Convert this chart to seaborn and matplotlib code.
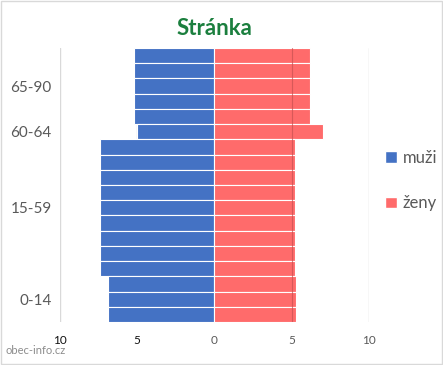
import pandas as pd
import matplotlib.pyplot as plt
import seaborn as sns
from matplotlib.patches import Patch, Rectangle

# Age groups from oldest (top) to youngest (bottom)
ages = ['85-90', '80-84', '75-79', '70-74', '65-69', '60-64',
        '55-59', '50-54', '45-49', '40-44', '35-39', '30-34', '25-29', '20-24', '15-19',
        '10-14', '5-9', '0-4']
muzi = [5.2, 5.2, 5.2, 5.2, 5.2, 5.0,
        7.4, 7.4, 7.4, 7.4, 7.4, 7.4, 7.4, 7.4, 7.4,
        6.9, 6.9, 6.9]
zeny = [6.2, 6.2, 6.2, 6.2, 6.2, 7.0,
        5.2, 5.2, 5.2, 5.2, 5.2, 5.2, 5.2, 5.2, 5.2,
        5.3, 5.3, 5.3]
groups = ['65-90', '60-64', '15-59', '0-14']
group_members = [ages[0:5], ages[5:6], ages[6:15], ages[15:18]]
x_ticks = [-10, -5, 0, 5, 10]

df = pd.DataFrame({'age': ages, 'muzi': [-v for v in muzi], 'zeny': zeny})

sns.set_style('white')
plt.rcParams['font.family'] = ['Lato', 'DejaVu Sans']

blue = '#4472C4'
red = '#FF6B6B'

fig = plt.figure(figsize=(4.43, 3.65), dpi=100)
ax = fig.add_axes([0.1354, 0.1178, 0.6975, 0.7507])

ax.set_xlim(-10, 10)
for v in x_ticks:
    ax.axvline(v, color='#d9d9d9', lw=1, zorder=0)

sns.barplot(data=df, x='muzi', y='age', order=ages, color=blue, width=1, saturation=1,
            edgecolor='white', linewidth=0.8, orient='h', ax=ax, zorder=2)
sns.barplot(data=df, x='zeny', y='age', order=ages, color=red, width=1, saturation=1,
            edgecolor='white', linewidth=0.8, orient='h', ax=ax, zorder=2)
ax.axvline(5, color='#c85050', lw=0.8, zorder=3, alpha=0.7)

ax.set_xlim(-10, 10)
ax.set_ylim(len(ages) - 0.5, -0.5)

# group labels at the centre of each age band
centers = []
for members in group_members:
    idx = [ages.index(a) for a in members]
    centers.append(sum(idx) / len(idx))
ax.set_yticks(centers)
ax.set_yticklabels(groups, fontsize=11, color='#595959')
ax.set_xticks(x_ticks)
ax.set_xticklabels([str(abs(v)) for v in x_ticks], fontsize=8.5)
for lbl, v in zip(ax.get_xticklabels(), x_ticks):
    lbl.set_color('#111111' if v < 0 else '#595959')
ax.tick_params(axis='both', length=0, pad=6)
ax.tick_params(axis='x', pad=9)
ax.set_xlabel('')
ax.set_ylabel('')
sns.despine(ax=ax, left=True, bottom=True)

ax.set_title('Stránka', fontsize=16, fontweight='bold', color='#1B7F3E', pad=9)

handles = [Patch(facecolor=blue, label='muži'), Patch(facecolor=red, label='ženy')]
fig.legend(handles=handles, loc='upper left', bbox_to_anchor=(0.835, 0.63),
           frameon=False, fontsize=12, handlelength=0.7, handleheight=0.7,
           handletextpad=0.35, labelspacing=1.75, labelcolor='#595959')

fig.text(0.013, 0.03, 'obec-info.cz', fontsize=8, color='#8c8c8c')
fig.patches.append(Rectangle((0.002, 0.003), 0.995, 0.993, transform=fig.transFigure,
                             fill=False, edgecolor='#d9d9d9', lw=1))

fig.savefig('out.png', dpi=100)
